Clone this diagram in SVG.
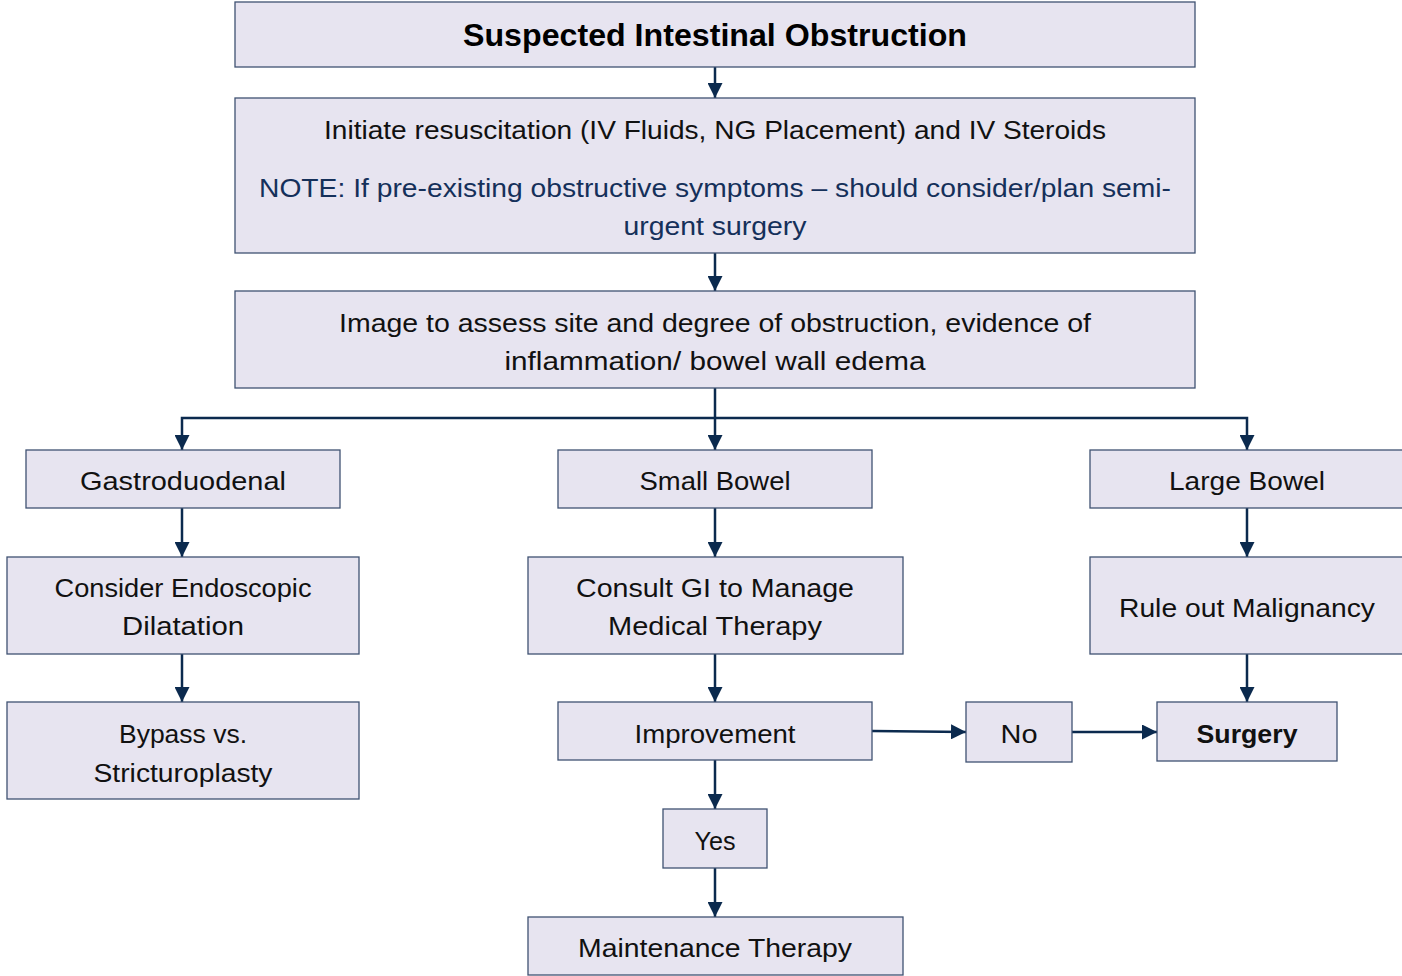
<svg xmlns="http://www.w3.org/2000/svg" width="1402" height="976" viewBox="0 0 1402 976">
<defs>
<style>
.box{fill:#E7E4F0;stroke:#3F5272;stroke-width:1.3}
.t{font-family:"Liberation Sans",Arial,sans-serif;font-size:26px;fill:#111;text-anchor:middle}
.n{fill:#15305A}
.b{font-weight:bold}
.c{fill:none;stroke:#0B2A4E;stroke-width:2.5}
</style>
<marker id="ah" viewBox="0 0 10 10" refX="10" refY="5" markerWidth="6" markerHeight="6" markerUnits="strokeWidth" orient="auto">
<path d="M0,0 L10,5 L0,10 z" fill="#0B2A4E"/>
</marker>
</defs>
<rect width="1402" height="976" fill="#fff"/>
<g id="connectors">
<path class="c" d="M715,67 V98" marker-end="url(#ah)"/>
<path class="c" d="M715,253 V291" marker-end="url(#ah)"/>
<path class="c" d="M715,388 V450" marker-end="url(#ah)"/>
<path class="c" d="M715,418 H182 V450" marker-end="url(#ah)"/>
<path class="c" d="M715,418 H1247 V450" marker-end="url(#ah)"/>
<path class="c" d="M182,508 V557" marker-end="url(#ah)"/>
<path class="c" d="M715,508 V557" marker-end="url(#ah)"/>
<path class="c" d="M1247,508 V557" marker-end="url(#ah)"/>
<path class="c" d="M182,654 V702" marker-end="url(#ah)"/>
<path class="c" d="M715,654 V702" marker-end="url(#ah)"/>
<path class="c" d="M1247,654 V702" marker-end="url(#ah)"/>
<path class="c" d="M872,731 L966,732" marker-end="url(#ah)"/>
<path class="c" d="M1072,732 H1157" marker-end="url(#ah)"/>
<path class="c" d="M715,760 V809" marker-end="url(#ah)"/>
<path class="c" d="M715,868 V917" marker-end="url(#ah)"/>
</g>
<g id="n1"><rect class="box" x="235" y="2" width="960" height="65"/><text class="t b" x="715" y="46" style="font-size:32px;fill:#000" textLength="504" lengthAdjust="spacingAndGlyphs">Suspected Intestinal Obstruction</text></g>
<g id="n2"><rect class="box" x="235" y="98" width="960" height="155"/>
<text class="t" x="715" y="139" textLength="782" lengthAdjust="spacingAndGlyphs">Initiate resuscitation (IV Fluids, NG Placement) and IV Steroids</text>
<text class="t n" x="715" y="197" textLength="912" lengthAdjust="spacingAndGlyphs">NOTE: If pre-existing obstructive symptoms – should consider/plan semi-</text>
<text class="t n" x="715" y="235" textLength="183" lengthAdjust="spacingAndGlyphs">urgent surgery</text></g>
<g id="n3"><rect class="box" x="235" y="291" width="960" height="97"/>
<text class="t" x="715" y="332" textLength="752" lengthAdjust="spacingAndGlyphs">Image to assess site and degree of obstruction, evidence of</text>
<text class="t" x="715" y="370" textLength="421" lengthAdjust="spacingAndGlyphs">inflammation/ bowel wall edema</text></g>
<g id="n4"><rect class="box" x="26" y="450" width="314" height="58"/><text class="t" x="183" y="490" textLength="206" lengthAdjust="spacingAndGlyphs">Gastroduodenal</text></g>
<g id="n5"><rect class="box" x="558" y="450" width="314" height="58"/><text class="t" x="715" y="490" textLength="151" lengthAdjust="spacingAndGlyphs">Small Bowel</text></g>
<g id="n6"><rect class="box" x="1090" y="450" width="314" height="58"/><text class="t" x="1247" y="490" textLength="156" lengthAdjust="spacingAndGlyphs">Large Bowel</text></g>
<g id="n7"><rect class="box" x="7" y="557" width="352" height="97"/>
<text class="t" x="183" y="597" textLength="257" lengthAdjust="spacingAndGlyphs">Consider Endoscopic</text>
<text class="t" x="183" y="635" textLength="122" lengthAdjust="spacingAndGlyphs">Dilatation</text></g>
<g id="n8"><rect class="box" x="528" y="557" width="375" height="97"/>
<text class="t" x="715" y="597" textLength="278" lengthAdjust="spacingAndGlyphs">Consult GI to Manage</text>
<text class="t" x="715" y="635" textLength="214" lengthAdjust="spacingAndGlyphs">Medical Therapy</text></g>
<g id="n9"><rect class="box" x="1090" y="557" width="314" height="97"/>
<text class="t" x="1247" y="617" textLength="256" lengthAdjust="spacingAndGlyphs">Rule out Malignancy</text></g>
<g id="n10"><rect class="box" x="7" y="702" width="352" height="97"/>
<text class="t" x="183" y="743" textLength="128" lengthAdjust="spacingAndGlyphs">Bypass vs.</text>
<text class="t" x="183" y="782" textLength="179" lengthAdjust="spacingAndGlyphs">Stricturoplasty</text></g>
<g id="n11"><rect class="box" x="558" y="702" width="314" height="58"/><text class="t" x="715" y="743" textLength="161" lengthAdjust="spacingAndGlyphs">Improvement</text></g>
<g id="n12"><rect class="box" x="966" y="702" width="106" height="60"/><text class="t" x="1019" y="743" textLength="37" lengthAdjust="spacingAndGlyphs">No</text></g>
<g id="n13"><rect class="box" x="1157" y="702" width="180" height="59"/><text class="t b" x="1247" y="743" textLength="101" lengthAdjust="spacingAndGlyphs">Surgery</text></g>
<g id="n14"><rect class="box" x="663" y="809" width="104" height="59"/><text class="t" x="715" y="850" textLength="41" lengthAdjust="spacingAndGlyphs">Yes</text></g>
<g id="n15"><rect class="box" x="528" y="917" width="375" height="58"/><text class="t" x="715" y="957" textLength="274" lengthAdjust="spacingAndGlyphs">Maintenance Therapy</text></g>
</svg>
